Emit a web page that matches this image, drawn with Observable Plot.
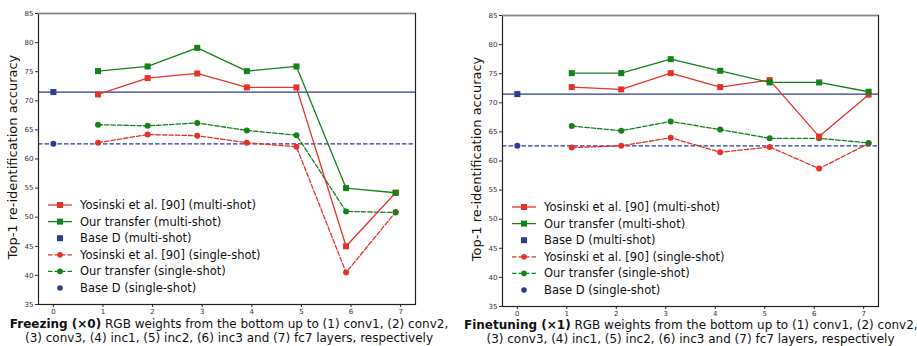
<!DOCTYPE html>
<html><head><meta charset="utf-8">
<script src="https://cdn.jsdelivr.net/npm/d3@7"></script>
<script src="https://cdn.jsdelivr.net/npm/@observablehq/plot@0.6"></script>
<style>
body{margin:0;background:#fff;font-family:"DejaVu Sans",sans-serif;}
#wrap{position:relative;width:917px;height:346px;overflow:hidden;}
.panel{position:absolute;top:0;}
.cap{text-align:center;font-size:12px;line-height:13.5px;color:#111;white-space:nowrap;}
</style></head><body><div id="wrap"></div>
<script>
// x positions of the layer points as drawn (offset from integer ticks)
const layerTicks = [0,1,2,3,4,5,6,7];
const xFreeze = [0.9,1.9,2.9,3.9,4.9,5.9,6.9];
const xFinetune = [1.1,2.1,3.1,4.1,5.1,6.1,7.1];
const baseX = 0;
const baseMulti = 71.5;
const baseSingle = 62.6;

const freezeYosMulti  = [71.1,73.9,74.7,72.3,72.3,45.0,54.2];
const freezeOurMulti  = [75.1,75.9,79.1,75.1,75.9,55.0,54.2];
const freezeYosSingle = [62.8,64.2,64.0,62.8,62.1,40.5,50.9];
const freezeOurSingle = [65.9,65.7,66.2,64.9,64.1,51.0,50.8];

const fineYosMulti  = [72.7,72.3,75.1,72.7,73.9,64.2,71.4];
const fineOurMulti  = [75.1,75.1,77.5,75.5,73.5,73.5,71.9];
const fineYosSingle = [62.3,62.6,64.0,61.5,62.4,58.7,63.0];
const fineOurSingle = [66.0,65.2,66.8,65.4,63.9,63.9,63.1];

const yTicks = [35,40,45,50,55,60,65,70,75,80,85];
const legendLabels = ["Yosinski et al. [90] (multi-shot)","Our transfer (multi-shot)","Base D (multi-shot)",
  "Yosinski et al. [90] (single-shot)","Our transfer (single-shot)","Base D (single-shot)"];
const yLabel = "Top-1 re-identification accuracy";

const RED="#e6332a", GREEN="#14821a", BLUE="#2b3c96";
const DASH="4.5,2";

function panel(opts){
  const {xs, yosM, ourM, yosS, ourS, left, width, mt, mr, height, boldCap, cap2, cap1rest, capShift} = opts;
  const mk = (ys) => ys.map((y,i)=>({x:xs[i], y}));
  const series = [
    {d:mk(yosS), c:RED, dash:DASH, sym:"circle"},
    {d:mk(ourS), c:GREEN, dash:DASH, sym:"circle"},
    {d:mk(yosM), c:RED, dash:null, sym:"square"},
    {d:mk(ourM), c:GREEN, dash:null, sym:"square"},
  ];
  const marks = [
    Plot.ruleY([baseMulti], {stroke:BLUE, strokeWidth:1.3}),
    Plot.ruleY([baseSingle], {stroke:BLUE, strokeWidth:1.3, strokeDasharray:DASH}),
  ];
  for (const s of series){
    marks.push(Plot.line(s.d, {x:"x", y:"y", stroke:s.c, strokeWidth:1.3, strokeDasharray:s.dash||undefined}));
  }
  for (const s of series){
    marks.push(Plot.dot(s.d, {x:"x", y:"y", fill:s.c, stroke:"none", symbol:s.sym, r: s.sym==="square"?3.4:3.0}));
  }
  marks.push(Plot.dot([{x:baseX,y:baseMulti}], {x:"x",y:"y",fill:BLUE,symbol:"square",r:3.4}));
  marks.push(Plot.dot([{x:baseX,y:baseSingle}], {x:"x",y:"y",fill:BLUE,symbol:"circle",r:3.0}));
  marks.push(Plot.frame({stroke:"#222", strokeWidth:1.2}));
  marks.push(Plot.ruleY([yTicks[yTicks.length-1]], {stroke:"#888", strokeWidth:1.4}));
  marks.push(Plot.axisX({ticks:layerTicks, tickSize:3, fontSize:7, tickPadding:2, label:null, stroke:"#222", color:"#333"}));
  marks.push(Plot.axisY({ticks:yTicks, tickSize:3, fontSize:7, tickPadding:2, label:null, color:"#333"}));
  const svg = Plot.plot({
    width, height, marginLeft:38, marginRight:mr, marginTop:mt, marginBottom:height-mt-291,
    style:{fontFamily:"DejaVu Sans", background:"white", overflow:"visible"},
    x:{domain:[-0.3,7.3]}, y:{domain:[35,85]},
    marks
  });
  const div = document.createElement("div");
  div.className="panel"; div.style.left=left+"px"; div.style.width=width+"px";
  div.appendChild(svg);
  // y label
  d3.select(svg).append("text")
    .attr("transform",`translate(13,${mt+144}) rotate(-90)`)
    .attr("text-anchor","middle").attr("dominant-baseline","middle")
    .attr("font-size","13px").attr("fill","#111").text(yLabel);
  // legend
  const leg = d3.select(svg).append("g").attr("transform",`translate(0,${mt+192})`)
    .attr("text-anchor","start");
  const items = [
    {c:RED, dash:null, sym:"square", line:true},
    {c:GREEN, dash:null, sym:"square", line:true},
    {c:BLUE, dash:null, sym:"square", line:false},
    {c:RED, dash:DASH, sym:"circle", line:true},
    {c:GREEN, dash:DASH, sym:"circle", line:true},
    {c:BLUE, dash:null, sym:"circle", line:false},
  ];
  items.forEach((it,i)=>{
    const g = leg.append("g").attr("transform",`translate(0,${i*16.6})`);
    if (it.line) g.append("line").attr("x1",48).attr("x2",72).attr("y1",0).attr("y2",0)
      .attr("stroke",it.c).attr("stroke-width",1.3).attr("stroke-dasharray",it.dash);
    if (it.sym==="square") g.append("rect").attr("x",57).attr("y",-3).attr("width",6).attr("height",6).attr("fill",it.c);
    else g.append("circle").attr("cx",60).attr("cy",0).attr("r",2.8).attr("fill",it.c);
    g.append("text").attr("x",80).attr("y",0).attr("dy","0.35em").attr("text-anchor","start")
      .attr("font-size","11.5px").attr("fill","#111").text(legendLabels[i]);
  });
  const cap = document.createElement("div"); cap.className="cap";
  cap.style.marginTop = capShift+"px";
  const b = document.createElement("b"); b.textContent = boldCap;
  cap.appendChild(b);
  cap.appendChild(document.createTextNode(cap1rest));
  cap.appendChild(document.createElement("br"));
  cap.appendChild(document.createTextNode(cap2));
  div.appendChild(cap);
  document.getElementById("wrap").appendChild(div);
}

panel({xs:xFreeze, yosM:freezeYosMulti, ourM:freezeOurMulti, yosS:freezeYosSingle, ourS:freezeOurSingle,
  left:0, width:458, mt:13, mr:43, height:318, capShift:0,
  boldCap:"Freezing (×0)", cap1rest:" RGB weights from the bottom up to (1) conv1, (2) conv2,",
  cap2:"(3) conv3, (4) inc1, (5) inc2, (6) inc3 and (7) fc7 layers, respectively"});
panel({xs:xFinetune, yosM:fineYosMulti, ourM:fineOurMulti, yosS:fineYosSingle, ourS:fineOurSingle,
  left:464, width:453, mt:15, mr:39, height:320, capShift:-1,
  boldCap:"Finetuning (×1)", cap1rest:" RGB weights from the bottom up to (1) conv1, (2) conv2,",
  cap2:"(3) conv3, (4) inc1, (5) inc2, (6) inc3 and (7) fc7 layers, respectively"});
</script></body></html>
